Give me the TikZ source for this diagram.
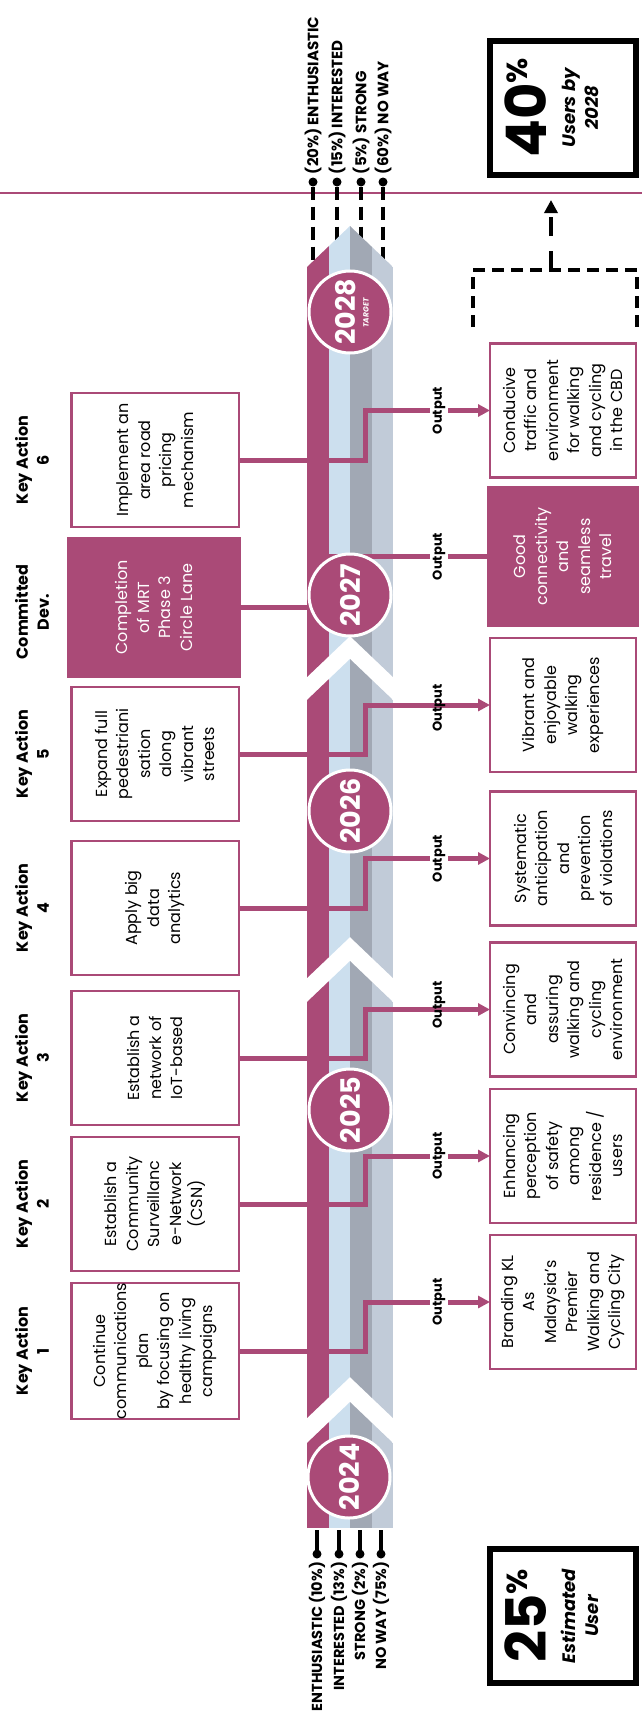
\documentclass[tikz,border=0pt]{standalone}
\usepackage{fontspec}
\setmainfont{Poppins}
\usetikzlibrary{arrows.meta}

\definecolor{plum}{RGB}{170,74,119}
\definecolor{skyband}{RGB}{204,223,238}
\definecolor{slateband}{RGB}{161,168,180}
\definecolor{mistband}{RGB}{193,203,216}

\newcommand{\fs}[2]{\fontsize{#1}{#2}\selectfont}
\newcommand{\pctbig}{\fs{56}{56}\bfseries\upshape}
\newcommand{\pctsign}{\fs{29}{29}\bfseries\upshape}
\newcommand{\pctnote}{\fs{18}{23}\bfseries\itshape}

\begin{document}
\begin{tikzpicture}[x=1pt,y=-1pt,
  every node/.style={inner sep=0pt,outer sep=0pt},
  actbox/.style={rotate=90,draw=plum,line width=2.5pt,fill=white,minimum width=134pt,minimum height=167.5pt,align=center,font=\fs{16}{21.5}},
  resbox/.style={actbox,minimum height=146pt},
  devbox/.style={actbox,draw=none,fill=plum,text=white,minimum width=141pt},
  keylbl/.style={rotate=90,align=center,font=\fs{16}{21}\bfseries},
  grplbl/.style={rotate=90,font=\fs{14.5}{15}\bfseries},
  outlbl/.style={rotate=90,font=\fs{13}{14}\bfseries,fill=white,inner sep=3pt},
  link/.style={plum,line width=5pt},
  tip/.style={-{Triangle[length=12pt,width=12pt]}},
  yr/.style={circle,rotate=90,fill=plum,draw=white,line width=3pt,minimum size=82pt,text=white,font=\fs{27}{27}\bfseries},
  dot/.style={circle,fill=black,minimum size=9pt},
  tick/.style={line width=4.5pt},
  pctbox/.style={rotate=90,draw=black,line width=6pt,minimum width=134pt,minimum height=146pt,align=center,font=\pctnote,text depth=22pt}
]
\useasboundingbox (0,0) rectangle (642,1734);

\coordinate (bartop) at (0,270);
\coordinate (barbot) at (0,1530);
\coordinate (stem) at (365,0);
\coordinate (magx) at (317,0);
\coordinate (lblx) at (439,0);

% thin rule across the top
\draw[plum,line width=1.5pt] (0,193) -- (642,193);

% shares in 2028
\foreach \x/\t/\n in {313/(20\%) ENTHUSIASTIC/1, 337/(15\%) INTERESTED/2, 361/(5\%) STRONG/3, 383/(60\%) NO WAY/4}{
  \node[dot] (td\n) at (\x,182) {};
  \node[grplbl,font=\fs{15}{15}\bfseries,anchor=west] (tl\n) at (\x,174) {\t};
  \draw[tick,dash pattern=on 13pt off 7pt] (td\n) -- (td\n |- bartop);
}

% the time bar, four arrow segments
\foreach \yb/\nd/\yt in {1528/0/1443, 1418/41/1002, 978/41/700, 677/41/267}{
  \begin{scope}
    \clip (307,\yb) -- (350,{\yb-\nd}) -- (393,\yb) -- (393,\yt) -- (350,{\yt-41}) -- (307,\yt) -- cycle;
    \fill[plum] (307,\yb) rectangle (328.5,{\yt-41});
    \fill[skyband] (328.5,\yb) rectangle (350,{\yt-41});
    \fill[slateband] (350,\yb) rectangle (371.5,{\yt-41});
    \fill[mistband] (371.5,\yb) rectangle (393,{\yt-41});
  \end{scope}
}

% shares in 2024
\foreach \x/\t/\n in {317/ENTHUSIASTIC (10\%)/1, 339/INTERESTED (13\%)/2, 360/STRONG (2\%)/3, 381/NO WAY (75\%)/4}{
  \node[dot] (bd\n) at (\x,1554) {};
  \node[grplbl,anchor=east] (bl\n) at (\x,1562) {\t};
  \draw[tick] (bd\n) -- (bd\n |- barbot);
}

% key actions
\node[keylbl] (kl1) at (32,1351) {Key Action\\1};
\node[keylbl] (kl2) at (32,1204) {Key Action\\2};
\node[keylbl] (kl3) at (32,1058) {Key Action\\3};
\node[keylbl] (kl4) at (32,908) {Key Action\\4};
\node[keylbl] (kl5) at (32,754) {Key Action\\5};
\node[keylbl] (klc) at (32,612) {Committed\\Dev.};
\node[keylbl] (kl6) at (32,460) {Key Action\\6};

\node[actbox] (ka1) at (155,1351) {Continue\\communications\\plan\\by focusing on\\healthy living\\campaigns};
\node[actbox] (ka2) at (155,1204) {Establish a\\Community\\Surveillanc\\e-Network\\(CSN)};
\node[actbox] (ka3) at (155,1058) {Establish a\\network of\\IoT-based};
\node[actbox] (ka4) at (155,908) {Apply big\\data\\analytics};
\node[actbox] (ka5) at (155,754) {Expand full\\pedestriani\\sation\\along\\vibrant\\streets};
\node[devbox,minimum height=174pt] (kc) at (154,607.5) {Completion\\of MRT\\Phase 3\\Circle Lane};
\node[actbox] (ka6) at (155,460) {Implement an\\area road\\pricing\\mechanism};

% outputs
\node[resbox] (out1) at (563,1302) {Branding KL\\As\\Malaysia’s\\Premier\\Walking and\\Cycling City};
\node[resbox] (out2) at (563,1156) {Enhancing\\perception\\of safety\\among\\residence /\\users};
\node[resbox] (out3) at (563,1009.5) {Convincing\\and\\assuring\\walking and\\cycling\\environment};
\node[resbox] (out4) at (563,858.5) {Systematic\\anticipation\\and\\prevention\\of violations};
\node[resbox] (out5) at (563,705) {Vibrant and\\enjoyable\\walking\\experiences};
\node[devbox,minimum height=152pt] (outc) at (563,556.5) {Good\\connectivity\\and\\seamless\\travel};
\node[resbox] (out6) at (563,410.5) {Conducive\\traffic and\\environment\\for walking\\and cycling\\in the CBD};

% links from actions to outputs
\foreach \a/\o in {ka1/out1, ka2/out2, ka3/out3, ka4/out4, ka5/out5, ka6/out6}
  \draw[link,tip] (\a.south) -- (\a.south -| stem) |- (\o.north);
\draw[link] (kc.south) -- (kc.south -| magx) |- (outc.north);

% years
\node[yr] (y2024) at (349,1477) {2024};
\node[yr] (y2025) at (350,1110) {2025};
\node[yr] (y2026) at (350,811) {2026};
\node[yr] (y2027) at (350,595) {2027};
\node[yr] (y2028) at (350,312) {};
\node[rotate=90,text=white,font=\fs{27}{27}\bfseries] (n2028) at (346,312) {2028};
\node[rotate=90,text=white,font=\fs{7.5}{8}\bfseries\itshape] (tgt) at (366,313) {TARGET};

\node[outlbl] (ol1) at (out1.north -| lblx) {Output};
\node[outlbl] (ol2) at (out2.north -| lblx) {Output};
\node[outlbl,fill=none] (ol3) at (439,1005) {Output};
\node[outlbl] (ol4) at (out4.north -| lblx) {Output};
\node[outlbl,fill=none] (ol5) at (439,708) {Output};
\node[outlbl] (olc) at (outc.north -| lblx) {Output};
\node[outlbl] (ol6) at (out6.north -| lblx) {Output};

% user shares
\node[pctbox] (pct25) at (563,1616) {\pctbig 25\raisebox{19.5pt}{\pctsign\%}\\[6pt]Estimated\\User};
\node[pctbox] (pct40) at (563,108) {\pctbig 40\raisebox{19.5pt}{\pctsign\%}\\[6pt]Users by\\2028};

% target bracket
\coordinate (brl) at (473,327);
\coordinate (brr) at (637,327);
\coordinate (brk) at (551,270);
\draw[line width=3.5pt,dash pattern=on 12pt off 7pt] (brl) |- (brk) -| (brr);
\draw[line width=4.5pt,dash pattern=on 19pt off 15pt,-{Triangle[length=13pt,width=13pt]},shorten >=25pt] (brk) -- (brk |- pct40.west);
\end{tikzpicture}
\end{document}
